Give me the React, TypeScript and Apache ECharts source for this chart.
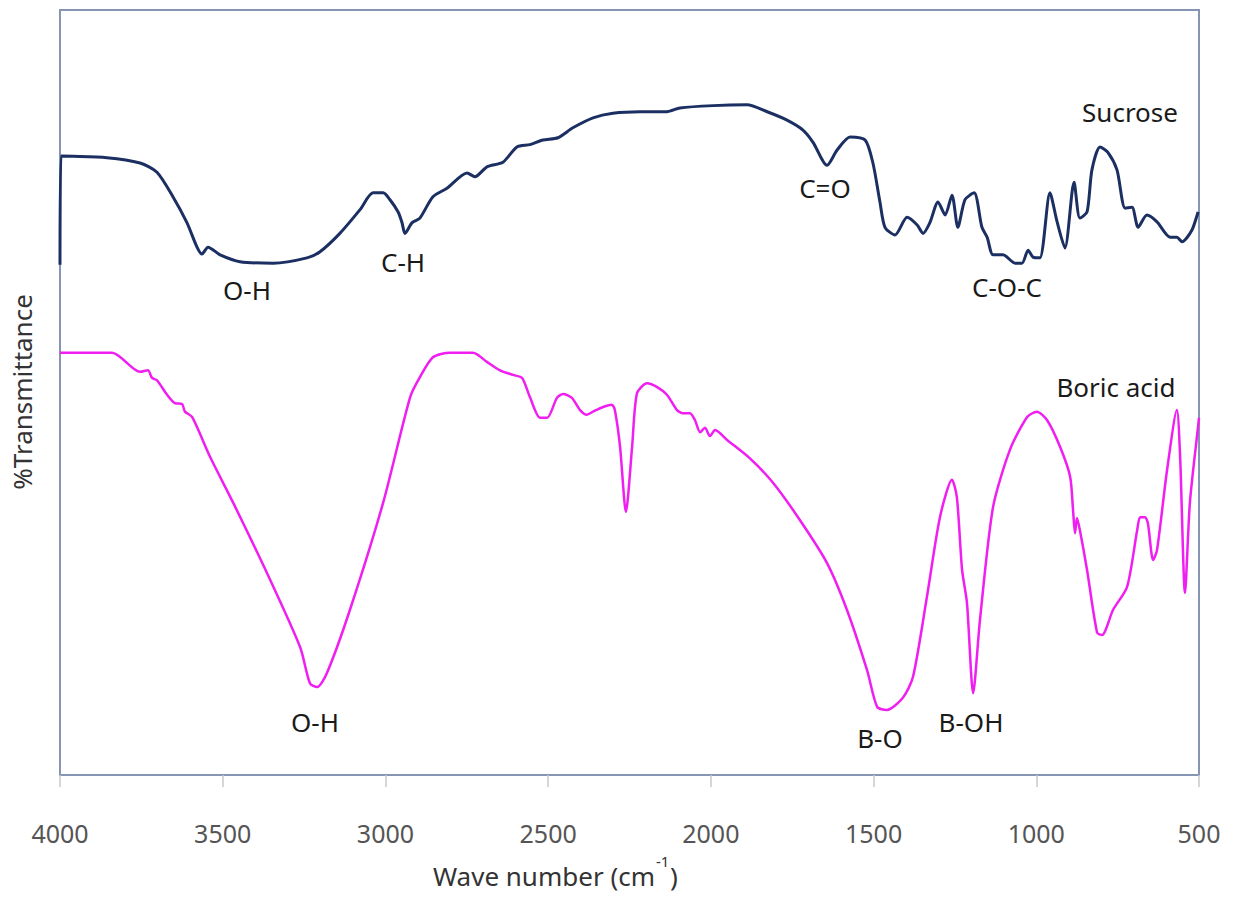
import React, { useEffect, useRef } from "react";
import * as echarts from "echarts";

// Wave numbers (cm-1) and %Transmittance
const sucroseWave = [4000, 3997, 3856, 3754, 3702, 3653, 3610, 3579, 3564, 3545, 3508, 3447, 3345, 3241, 3201, 3140, 3078, 3038, 3007, 2986, 2961, 2949, 2940, 2918, 2894, 2854, 2811, 2749, 2725, 2688, 2639, 2596, 2556, 2516, 2470, 2424, 2362, 2301, 2218, 2135, 2095, 1993, 1889, 1827, 1766, 1717, 1686, 1643, 1612, 1572, 1526, 1502, 1480, 1465, 1434, 1397, 1366, 1348, 1327, 1302, 1280, 1259, 1241, 1219, 1191, 1167, 1151, 1133, 1102, 1065, 1044, 1025, 1010, 989, 958, 936, 912, 884, 866, 844, 829, 804, 780, 752, 727, 706, 687, 660, 629, 589, 568, 552, 522, 503];
const sucroseT = [66.7, 80.9, 80.7, 80.0, 78.8, 75.6, 72.2, 69.0, 68.1, 69.0, 68.0, 67.1, 66.9, 67.6, 68.4, 70.8, 73.9, 76.1, 76.1, 75.2, 73.6, 72.2, 70.8, 72.2, 72.8, 75.6, 76.7, 78.7, 78.2, 79.5, 80.1, 82.1, 82.4, 83.0, 83.3, 84.6, 85.9, 86.5, 86.7, 86.7, 87.2, 87.5, 87.6, 86.7, 85.6, 84.3, 82.7, 79.7, 81.7, 83.4, 83.0, 80.0, 74.8, 71.6, 70.6, 72.9, 71.9, 70.8, 72.2, 74.9, 73.2, 75.8, 71.6, 75.2, 76.1, 71.6, 70.3, 68.0, 68.0, 66.9, 66.9, 68.6, 67.7, 67.6, 76.1, 72.3, 68.9, 77.5, 72.8, 73.6, 79.1, 82.1, 81.4, 79.1, 74.1, 74.2, 71.6, 73.2, 72.3, 70.3, 70.3, 69.7, 71.2, 73.6];

const boricWave = [4000, 3840, 3754, 3730, 3717, 3702, 3671, 3647, 3625, 3616, 3594, 3539, 3468, 3364, 3262, 3232, 3210, 3180, 3109, 3007, 2924, 2894, 2854, 2802, 2731, 2688, 2648, 2608, 2580, 2556, 2525, 2503, 2473, 2454, 2427, 2402, 2381, 2362, 2331, 2304, 2295, 2279, 2261, 2242, 2227, 2196, 2165, 2135, 2104, 2086, 2064, 2049, 2033, 2018, 2003, 1987, 1950, 1880, 1809, 1726, 1643, 1582, 1520, 1489, 1459, 1410, 1379, 1336, 1296, 1259, 1244, 1228, 1213, 1194, 1173, 1133, 1081, 1028, 998, 967, 927, 896, 887, 881, 875, 866, 844, 813, 798, 764, 721, 690, 681, 666, 657, 641, 629, 598, 568, 558, 543, 528, 503, 500];
const boricT = [55.2, 55.2, 52.7, 52.9, 51.9, 51.6, 49.7, 48.6, 48.5, 47.5, 46.8, 41.6, 35.6, 26.4, 16.7, 12.0, 11.5, 13.3, 21.6, 35.6, 49.4, 52.0, 54.6, 55.2, 55.2, 54.0, 52.9, 52.3, 51.9, 49.4, 46.7, 46.7, 49.3, 49.8, 49.3, 47.7, 47.1, 47.5, 48.1, 48.4, 47.7, 42.9, 34.4, 42.9, 49.9, 51.2, 50.7, 49.7, 47.7, 47.3, 47.3, 46.4, 44.8, 45.4, 44.3, 45.1, 43.8, 41.4, 38.2, 33.3, 27.7, 21.6, 13.7, 8.9, 8.5, 10.1, 12.8, 23.3, 33.7, 38.6, 36.3, 26.8, 22.5, 10.7, 20.3, 35.0, 42.5, 46.8, 47.5, 46.4, 42.9, 39.0, 34.6, 31.6, 33.6, 32.0, 26.8, 18.6, 18.3, 21.6, 24.6, 32.0, 33.7, 33.7, 32.9, 28.1, 29.4, 39.9, 47.7, 41.6, 23.8, 35.6, 45.5, 46.7];

const xTicks = { min: 500, max: 4000, step: 500 };

const annotations = [
  { text: "Sucrose", x: 1130, y: 112 },
  { text: "O-H", x: 247, y: 290 },
  { text: "C-H", x: 403, y: 262 },
  { text: "C=O", x: 825, y: 188 },
  { text: "C-O-C", x: 1007, y: 287 },
  { text: "Boric acid", x: 1116, y: 387 },
  { text: "O-H", x: 315, y: 722 },
  { text: "B-O", x: 880, y: 738 },
  { text: "B-OH", x: 971, y: 722 },
];

const FONT = "'Noto Sans', 'Open Sans', sans-serif";

export default function App() {
  const ref = useRef<HTMLDivElement>(null);
  useEffect(() => {
    if (!ref.current) return;
    const chart = echarts.init(ref.current, undefined, { renderer: "svg" });
    const sucrose = sucroseWave.map((w, i) => [w, sucroseT[i]]);
    const boric = boricWave.map((w, i) => [w, boricT[i]]);
    const textStyle = (text: string, size: number, align: string) => ({
      text,
      fill: "#333333",
      font: `${size}px ${FONT}`,
      align,
      verticalAlign: "middle",
    });
    chart.setOption({
      animation: false,
      backgroundColor: "#ffffff",
      grid: {
        left: 60,
        right: 40,
        top: 10,
        bottom: 125,
        show: true,
        borderColor: "#8595b3",
        borderWidth: 2,
        backgroundColor: "transparent",
      },
      xAxis: {
        type: "value",
        inverse: true,
        min: xTicks.min,
        max: xTicks.max,
        interval: xTicks.step,
        axisLine: { show: true, lineStyle: { color: "#8595b3", width: 2 } },
        axisTick: { show: true, length: 12, lineStyle: { color: "#c8c8c8", width: 1.5 } },
        splitLine: { show: false },
        axisLabel: {
          margin: 45,
          color: "#555555",
          fontSize: 25,
          fontFamily: FONT,
          formatter: (v: number) => String(v),
        },
      },
      yAxis: {
        type: "value",
        min: 0,
        max: 100,
        axisLine: { show: false },
        axisTick: { show: false },
        axisLabel: { show: false },
        splitLine: { show: false },
      },
      series: [
        {
          name: "Sucrose",
          type: "line",
          data: sucrose,
          showSymbol: false,
          smooth: 0.25,
          lineStyle: { color: "#1c2f62", width: 3 },
          itemStyle: { color: "#1c2f62" },
        },
        {
          name: "Boric acid",
          type: "line",
          data: boric,
          showSymbol: false,
          smooth: 0.25,
          lineStyle: { color: "#f01ef0", width: 2.5 },
          itemStyle: { color: "#f01ef0" },
        },
      ],
      graphic: [
        ...annotations.map((a) => ({
          type: "text",
          x: a.x,
          y: a.y,
          style: { ...textStyle(a.text, 26, "center"), fill: "#1a1a1a" },
        })),
        {
          type: "text",
          x: 22,
          y: 392,
          rotation: Math.PI / 2,
          style: textStyle("%Transmittance", 26, "center"),
        },
        {
          type: "text",
          x: 655,
          y: 876,
          style: textStyle("Wave number (cm", 26, "right"),
        },
        {
          type: "text",
          x: 656,
          y: 861,
          style: textStyle("-1", 15, "left"),
        },
        {
          type: "text",
          x: 670,
          y: 876,
          style: textStyle(")", 26, "left"),
        },
      ],
    });
    return () => chart.dispose();
  }, []);
  return <div ref={ref} style={{ width: 1239, height: 900, margin: -8 }} />;
}
